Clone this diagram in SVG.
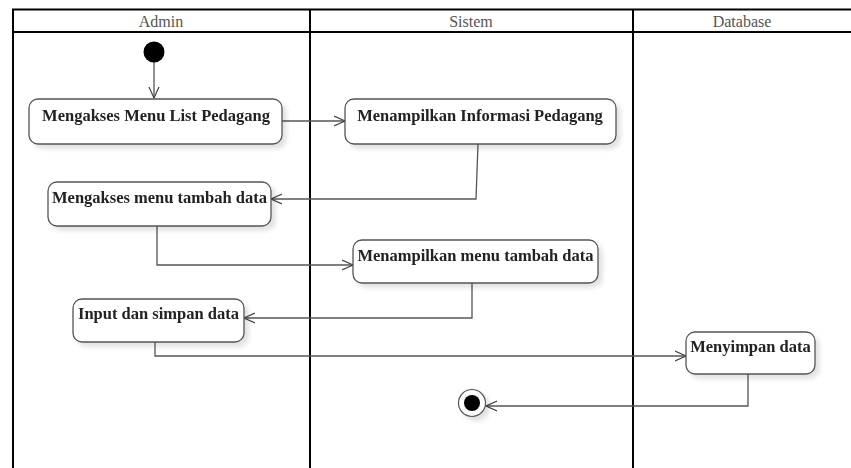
<svg xmlns="http://www.w3.org/2000/svg" width="851" height="468" viewBox="0 0 851 468">
  <defs>
    <filter id="shadow" x="-10%" y="-20%" width="130%" height="160%">
      <feGaussianBlur in="SourceAlpha" stdDeviation="2.5"/>
      <feOffset dx="4" dy="4" result="b"/>
      <feComponentTransfer><feFuncA type="linear" slope="0.12"/></feComponentTransfer>
      <feMerge><feMergeNode/><feMergeNode in="SourceGraphic"/></feMerge>
    </filter>
    <marker id="open" viewBox="0 0 12 12" refX="11" refY="6" markerWidth="12" markerHeight="12" markerUnits="userSpaceOnUse" orient="auto">
      <path d="M0,1 L11,6 L0,11" fill="none" stroke="#444" stroke-width="1.2"/>
    </marker>
  </defs>
  <style>
    .lane { stroke: #000; stroke-width: 2; fill: none; }
    .head { font-family: "Liberation Serif", "Times New Roman", serif; font-size: 16px; fill: #555; text-anchor: middle; }
    .act rect { fill: #fff; stroke: #555; stroke-width: 1.3; }
    .act text { font-family: "Liberation Serif", "Times New Roman", serif; font-weight: bold; font-size: 16.5px; fill: #222; text-anchor: middle; }
    .flow { fill: none; stroke: #555; stroke-width: 1.3; marker-end: url(#open); }
  </style>
  <rect width="851" height="468" fill="#fff"/>

  <!-- swimlanes -->
  <g id="lanes">
    <path class="lane" d="M13,468 V9.5 H851 M13,32 H851 M310,9 V468 M633,9 V468"/>
    <text class="head" x="161" y="27">Admin</text>
    <text class="head" x="471" y="27">Sistem</text>
    <text class="head" x="742" y="27">Database</text>
  </g>

  <!-- connectors -->
  <g id="connectors">
    <path class="flow" d="M154,62 V98"/>
    <path class="flow" d="M282,121 H345"/>
    <path class="flow" d="M478,144 L476,199 H271"/>
    <path class="flow" d="M157,226 V265 H353"/>
    <path class="flow" d="M472,283 V318 H244"/>
    <path class="flow" d="M155,342 V356 H686"/>
    <path class="flow" d="M748,374 V406 H486"/>
  </g>

  <g id="start">
    <circle cx="154" cy="52" r="10.5" fill="#000"/>
  </g>

  <g id="n1" class="act" filter="url(#shadow)">
    <rect x="29" y="99" width="253" height="45" rx="9"/>
    <text x="156" y="121">Mengakses Menu List Pedagang</text>
  </g>
  <g id="n2" class="act" filter="url(#shadow)">
    <rect x="345" y="99" width="271" height="45" rx="9"/>
    <text x="480" y="121">Menampilkan Informasi Pedagang</text>
  </g>
  <g id="n3" class="act" filter="url(#shadow)">
    <rect x="48" y="182" width="223" height="44" rx="9"/>
    <text x="159.5" y="203">Mengakses menu tambah data</text>
  </g>
  <g id="n4" class="act" filter="url(#shadow)">
    <rect x="353" y="240" width="245" height="43" rx="9"/>
    <text x="475.5" y="261">Menampilkan menu tambah data</text>
  </g>
  <g id="n5" class="act" filter="url(#shadow)">
    <rect x="73" y="299" width="171" height="43" rx="9"/>
    <text x="158.5" y="319">Input dan simpan data</text>
  </g>
  <g id="n6" class="act" filter="url(#shadow)">
    <rect x="686" y="332" width="129" height="42" rx="9"/>
    <text x="750.5" y="352">Menyimpan data</text>
  </g>

  <g id="end" filter="url(#shadow)">
    <circle cx="472" cy="403" r="13.5" fill="#fff" stroke="#555" stroke-width="1.2"/>
    <circle cx="472" cy="403" r="8" fill="#000"/>
  </g>
</svg>
